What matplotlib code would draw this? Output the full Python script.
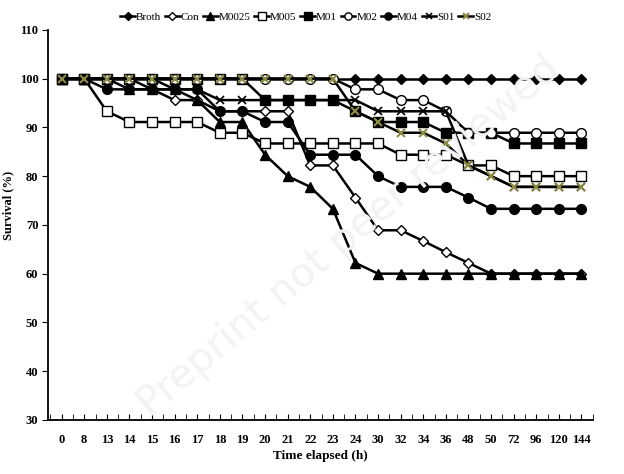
import numpy as np
import matplotlib
matplotlib.use('Agg')
import matplotlib.pyplot as plt

plt.rcParams['font.family'] = ['Liberation Serif', 'DejaVu Serif']

hours = ['0', '8', '13', '14', '15', '16', '17', '18', '19', '20', '21', '22',
         '23', '24', '30', '32', '34', '36', '48', '50', '72', '96', '120', '144']

broth = [100] * 24
con = [100, 100, 100, 100, 97.8, 95.6, 95.6, 93.3, 93.3, 93.3, 93.3, 82.2,
       82.2, 75.6, 68.9, 68.9, 66.7, 64.4, 62.2, 60, 60, 60, 60, 60]
m0025 = [100, 100, 100, 97.8, 97.8, 97.8, 95.6, 91.1, 91.1, 84.4, 80, 77.8,
         73.3, 62.2, 60, 60, 60, 60, 60, 60, 60, 60, 60, 60]
m005 = [100, 100, 93.3, 91.1, 91.1, 91.1, 91.1, 88.9, 88.9, 86.7, 86.7, 86.7,
        86.7, 86.7, 86.7, 84.4, 84.4, 84.4, 82.2, 82.2, 80, 80, 80, 80]
m01 = [100, 100, 100, 100, 100, 100, 100, 100, 100, 95.6, 95.6, 95.6,
       95.6, 93.3, 91.1, 91.1, 91.1, 88.9, 88.9, 88.9, 86.7, 86.7, 86.7, 86.7]
m02 = [100, 100, 100, 100, 100, 100, 100, 100, 100, 100, 100, 100,
       100, 97.8, 97.8, 95.6, 95.6, 93.3, 88.9, 88.9, 88.9, 88.9, 88.9, 88.9]
m04 = [100, 100, 97.8, 97.8, 97.8, 97.8, 97.8, 93.3, 93.3, 91.1, 91.1, 84.4,
       84.4, 84.4, 80, 77.8, 77.8, 77.8, 75.6, 73.3, 73.3, 73.3, 73.3, 73.3]
s01 = [100, 100, 100, 100, 100, 97.8, 97.8, 95.6, 95.6, 95.6, 95.6, 95.6,
       95.6, 95.6, 93.3, 93.3, 93.3, 93.3, 82.2, 80, 77.8, 77.8, 77.8, 77.8]
s02 = [100, 100, 100, 100, 100, 100, 100, 100, 100, 100, 100, 100,
       100, 93.3, 91.1, 88.9, 88.9, 86.7, 82.2, 80, 77.8, 77.8, 77.8, 77.8]

series = [
    ('Broth', broth, dict(marker='D', mfc='black', ms=5)),
    ('Con', con, dict(marker='D', mfc='white', ms=5)),
    ('M0025', m0025, dict(marker='^', mfc='black', ms=7)),
    ('M005', m005, dict(marker='s', mfc='white', ms=7)),
    ('M01', m01, dict(marker='s', mfc='black', ms=7)),
    ('M02', m02, dict(marker='o', mfc='white', ms=7)),
    ('M04', m04, dict(marker='o', mfc='black', ms=7)),
    ('S01', s01, dict(marker='x', mfc='black', ms=6, mew=1.2)),
    ('S02', s02, dict(marker='x', mfc='#8c8c45', mec='#8c8c45', ms=6, mew=1.5)),
]

fig = plt.figure(figsize=(6.24, 4.74), dpi=100)

# faint watermark behind the plot
fig.text(0.56, 0.5, 'Preprint not peer reviewed', rotation=40, fontsize=29,
         color='#f3f3f3', ha='center', va='center', zorder=0,
         family=['DejaVu Sans'])

ax = fig.add_axes([0.077, 0.114, 0.873, 0.823])
ax.patch.set_alpha(0)

x = np.arange(len(hours))
for i, (name, vals, style) in enumerate(series):
    kw = dict(color='black', mec='black', lw=1.8)
    kw.update(style)
    ax.plot(x, vals, label=name, zorder=3 + i, clip_on=False, **kw)

ax.set_xlim(-0.6, 23.5)
ax.set_ylim(30, 110)
ax.set_yticks(np.arange(30, 111, 10))
ax.set_xticks(x)
ax.set_xticklabels(hours)
ax.set_xticks(np.arange(-0.5, 23.6, 1), minor=True)
ax.tick_params(axis='x', which='both', direction='in', length=4, pad=10)
ax.tick_params(axis='y', direction='out', length=4, pad=3)
for lab in ax.get_xticklabels() + ax.get_yticklabels():
    lab.set_fontweight('bold')
    lab.set_fontsize(9)

ax.spines['top'].set_visible(False)
ax.spines['right'].set_visible(False)
ax.spines['left'].set_linewidth(1.3)
ax.spines['bottom'].set_linewidth(1.3)

ax.set_ylabel('Survival (%)', fontweight='bold', fontsize=9)
ax.yaxis.set_label_coords(-0.062, 0.55)
ax.set_xlabel('Time elapsed (h)', fontweight='bold', fontsize=9.5, labelpad=3)

fig.legend(loc='upper center', bbox_to_anchor=(0.49, 0.995), ncol=9, frameon=False,
           fontsize=8, handlelength=1.3, handletextpad=0.1, columnspacing=0.35,
           markerscale=0.75)

fig.savefig('out.png', dpi=100)
